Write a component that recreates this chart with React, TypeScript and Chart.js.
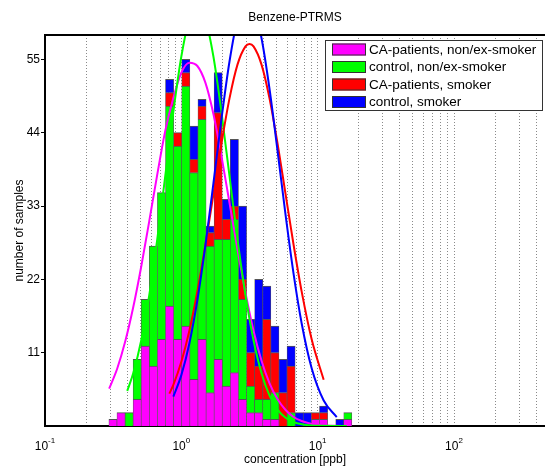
import React, { useEffect, useRef } from 'react';
import { Chart, registerables } from 'chart.js';

Chart.register(...registerables);

const FONT = "'Liberation Sans', Arial, Helvetica, sans-serif";

const TITLE = 'Benzene-PTRMS';
const X_LABEL = 'concentration [ppb]';
const Y_LABEL = 'number of samples';

const SERIES_LABELS = [
  'CA-patients, non/ex-smoker',
  'control, non/ex-smoker',
  'CA-patients, smoker',
  'control, smoker',
];
const SERIES_COLORS = ['#ff00ff', '#00ff00', '#ff0000', '#0000ff'];

// histogram bin centres (ppb, log-spaced)
const BIN_CENTERS = [
  0.315, 0.361, 0.414, 0.474, 0.544, 0.624, 0.715, 0.82, 0.94, 1.079,
  1.236, 1.419, 1.626, 1.862, 2.138, 2.449, 2.812, 3.221, 3.698, 4.236,
  4.853, 5.572, 6.383, 7.328, 8.395, 9.638, 11.04, 12.68, 14.52, 16.63,
];

const CA_NONSMOKER = [1, 2, 0, 4, 12, 9, 13, 18, 13, 15, 7, 13, 5, 10, 6, 8, 4, 2, 2, 1, 1, 0, 0, 0, 0, 1, 1, 0, 0, 1];
const CONTROL_NONSMOKER = [0, 0, 2, 6, 7, 18, 22, 30, 29, 36, 31, 33, 22, 18, 22, 23, 15, 4, 2, 3, 4, 0, 2, 0, 0, 0, 0, 0, 0, 1];
const CA_SMOKER = [0, 0, 0, 0, 0, 0, 0, 2, 2, 2, 2, 2, 2, 19, 3, 2, 3, 5, 5, 12, 6, 5, 7, 0, 0, 1, 1, 0, 0, 0];
const CONTROL_SMOKER = [0, 0, 0, 0, 0, 0, 0, 2, 0, 2, 5, 1, 1, 6, 3, 10, 11, 5, 13, 5, 4, 5, 3, 2, 2, 0, 1, 0, 1, 0];

// fitted distribution curves
const FIT_CA_NONSMOKER_X = [0.2955, 0.3383, 0.3875, 0.4437, 0.5081, 0.5818, 0.6662, 0.7629, 0.8735, 1.0, 1.145, 1.311, 1.501, 1.719, 1.968, 2.254, 2.581, 2.955, 3.384, 3.875, 4.437, 5.081, 5.818, 6.662, 7.628, 9.035, 10.7, 13.11, 16.34];
const FIT_CA_NONSMOKER_Y = [5.59, 8.59, 12.66, 17.8, 23.93, 30.74, 37.75, 44.31, 49.2, 53.0, 54.5, 54.0, 51.5, 46.8, 40.5, 33.5, 26.5, 20.0, 14.3, 9.8, 6.4, 4.0, 2.4, 1.35, 0.75, 0.32, 0.13, 0.04, 0.01];

const FIT_CONTROL_NONSMOKER_X = [0.4009, 0.4437, 0.5081, 0.5818, 0.6662, 0.7629, 0.8735, 1.0, 1.145, 1.311, 1.501, 1.719, 1.968, 2.254, 2.581, 2.955, 3.384, 3.875, 4.437, 5.081, 5.818, 6.662, 7.628, 9.035, 10.7, 13.11, 16.34];
const FIT_CONTROL_NONSMOKER_Y = [5.26, 7.91, 12.87, 19.62, 28.03, 37.54, 47.12, 55.42, 61.08, 63.1, 61.08, 55.42, 47.12, 37.54, 28.03, 19.62, 12.87, 7.91, 4.55, 2.46, 1.24, 0.59, 0.26, 0.08, 0.02, 0.0, 0.0];

const FIT_CA_SMOKER_X = [0.8162, 0.8735, 1.0, 1.145, 1.311, 1.501, 1.719, 1.968, 2.254, 2.581, 2.955, 3.162, 3.384, 3.875, 4.437, 5.081, 5.818, 6.662, 7.628, 9.035, 11.07];
const FIT_CA_SMOKER_Y = [4.85, 6.17, 9.63, 14.29, 20.19, 27.15, 34.75, 42.35, 49.11, 54.21, 56.95, 57.3, 56.95, 54.21, 49.11, 42.35, 34.75, 27.15, 20.19, 13.0, 6.93];

const FIT_CONTROL_SMOKER_X = [0.8735, 1.0, 1.145, 1.311, 1.501, 1.719, 1.968, 2.254, 2.581, 2.955, 3.384, 3.875, 4.437, 5.081, 5.818, 6.662, 7.628, 9.035, 11.07, 13.8];
const FIT_CONTROL_SMOKER_Y = [4.42, 7.63, 12.38, 18.88, 27.05, 36.4, 46.01, 54.64, 60.95, 63.88, 62.89, 58.16, 50.53, 41.24, 31.62, 22.78, 15.41, 8.66, 3.82, 1.34];

// axes
const X_MIN = 0.1;
const X_MAX = 465;
const Y_MIN = 0;
const Y_MAX = 58.65;
const Y_TICKS = [11, 22, 33, 44, 55];
const X_GRID = [
  0.2, 0.3, 0.4, 0.5, 0.6, 0.7, 0.8, 0.9, 1,
  2, 3, 4, 5, 6, 7, 8, 9, 10,
  20, 30, 40, 50, 60, 70, 80, 90, 100,
  200, 300, 400,
];
const X_MAJOR = [0.1, 1, 10, 100];
const X_MAJOR_EXP = ['-1', '0', '1', '2'];

const barSeries = [CA_NONSMOKER, CONTROL_NONSMOKER, CA_SMOKER, CONTROL_SMOKER];
const fitSeries = [
  [FIT_CA_NONSMOKER_X, FIT_CA_NONSMOKER_Y],
  [FIT_CONTROL_NONSMOKER_X, FIT_CONTROL_NONSMOKER_Y],
  [FIT_CA_SMOKER_X, FIT_CA_SMOKER_Y],
  [FIT_CONTROL_SMOKER_X, FIT_CONTROL_SMOKER_Y],
];

const overlayPlugin = {
  id: 'overlay',
  afterDraw(chart: any) {
    const { ctx, chartArea } = chart;
    const { left, right, top, bottom } = chartArea;
    const xs = chart.scales.x;
    ctx.save();
    // top frame line
    ctx.strokeStyle = '#000';
    ctx.lineWidth = 2;
    ctx.beginPath();
    ctx.moveTo(left - 1, top);
    ctx.lineTo(right, top);
    ctx.stroke();

    // title
    ctx.fillStyle = '#000';
    ctx.font = `12px ${FONT}`;
    ctx.textAlign = 'center';
    ctx.textBaseline = 'middle';
    ctx.fillText(TITLE, (left + right) / 2, 18);

    // x major tick labels with exponent
    ctx.textAlign = 'left';
    ctx.textBaseline = 'alphabetic';
    X_MAJOR.forEach((v, i) => {
      const px = xs.getPixelForValue(v);
      ctx.font = `12px ${FONT}`;
      const wb = ctx.measureText('10').width;
      ctx.font = `8px ${FONT}`;
      const we = ctx.measureText(X_MAJOR_EXP[i]).width;
      const start = px - (wb + we) / 2;
      ctx.font = `12px ${FONT}`;
      ctx.fillText('10', start, bottom + 24);
      ctx.font = `8px ${FONT}`;
      ctx.fillText(X_MAJOR_EXP[i], start + wb, bottom + 17);
    });

    // legend box
    const bw = 217;
    const bh = 70;
    const bx = right - 220;
    const by = top + 5;
    ctx.fillStyle = '#fff';
    ctx.fillRect(bx, by, bw, bh);
    ctx.strokeStyle = '#333';
    ctx.lineWidth = 1;
    ctx.strokeRect(bx + 0.5, by + 0.5, bw, bh);
    ctx.font = `13.5px ${FONT}`;
    ctx.textBaseline = 'middle';
    SERIES_LABELS.forEach((lab, i) => {
      const cy = by + 9.5 + i * 17.5;
      ctx.fillStyle = SERIES_COLORS[i];
      ctx.fillRect(bx + 7, cy - 6, 34, 12);
      ctx.strokeStyle = '#333';
      ctx.strokeRect(bx + 7.5, cy - 5.5, 33, 11);
      ctx.fillStyle = '#000';
      ctx.fillText(lab, bx + 44, cy + 0.5);
    });
    ctx.restore();
  },
};

export default function App() {
  const ref = useRef<HTMLCanvasElement | null>(null);

  useEffect(() => {
    if (!ref.current) return;
    const datasets: any[] = [];
    barSeries.forEach((vals, i) => {
      datasets.push({
        type: 'bar',
        label: SERIES_LABELS[i],
        data: BIN_CENTERS.map((x, j) => ({ x, y: vals[j] })),
        backgroundColor: SERIES_COLORS[i],
        borderColor: '#555',
        borderWidth: { top: 1, left: 0.65, right: 0.65, bottom: 0 },
        stack: 'hist',
        xAxisID: 'x',
        yAxisID: 'y',
        barThickness: 'flex',
        barPercentage: 1,
        categoryPercentage: 1,
        order: 10,
      });
    });
    fitSeries.forEach(([xsArr, ysArr], i) => {
      datasets.push({
        type: 'line',
        label: SERIES_LABELS[i] + ' fit',
        data: xsArr.map((x, j) => ({ x, y: ysArr[j] })),
        borderColor: SERIES_COLORS[i],
        backgroundColor: SERIES_COLORS[i],
        borderWidth: 2,
        pointRadius: 0,
        fill: false,
        cubicInterpolationMode: 'monotone',
        xAxisID: 'x',
        yAxisID: 'y2',
        order: 3 - i,
      });
    });

    const chart = new Chart(ref.current, {
      type: 'bar',
      data: { datasets },
      plugins: [overlayPlugin],
      options: {
        animation: false,
        responsive: false,
        maintainAspectRatio: false,
        devicePixelRatio: 1,
        layout: { padding: { top: 35, left: 0, right: 0, bottom: 0 } },
        plugins: {
          legend: { display: false },
          title: { display: false },
          tooltip: { enabled: false },
        },
        scales: {
          x: {
            type: 'logarithmic',
            min: X_MIN,
            max: X_MAX,
            offset: false,
            afterBuildTicks: (s: any) => {
              s.ticks = X_GRID.map((v) => ({ value: v }));
            },
            afterFit: (s: any) => {
              s.height = 41;
            },
            ticks: { display: false },
            grid: { offset: false, color: '#8a8a8a', lineWidth: 1, drawTicks: false },
            border: { display: true, color: '#000', width: 2, dash: [1, 2] },
            title: {
              display: true,
              text: X_LABEL,
              color: '#000',
              font: { family: FONT, size: 12 },
              padding: { top: 0, bottom: 0 },
            },
          },
          y: {
            type: 'linear',
            min: Y_MIN,
            max: Y_MAX,
            stacked: true,
            afterBuildTicks: (s: any) => {
              s.ticks = Y_TICKS.map((v) => ({ value: v }));
            },
            afterFit: (s: any) => {
              s.width = 45;
            },
            ticks: { color: '#000', font: { family: FONT, size: 12 }, padding: 1 },
            grid: { drawOnChartArea: false, drawTicks: true, tickLength: 4, color: '#000', tickColor: '#000' },
            border: { display: true, color: '#000', width: 2 },
            title: {
              display: true,
              text: Y_LABEL,
              color: '#000',
              font: { family: FONT, size: 12 },
              padding: { top: 12, bottom: 0 },
            },
          },
          y2: {
            type: 'linear',
            min: Y_MIN,
            max: Y_MAX,
            display: false,
          },
        },
      } as any,
    });
    return () => chart.destroy();
  }, []);

  return (
    <div style={{ position: 'absolute', left: 0, top: 0, width: 545, height: 467, background: '#fff' }}>
      <canvas ref={ref} width={545} height={467} style={{ display: 'block' }} />
    </div>
  );
}
